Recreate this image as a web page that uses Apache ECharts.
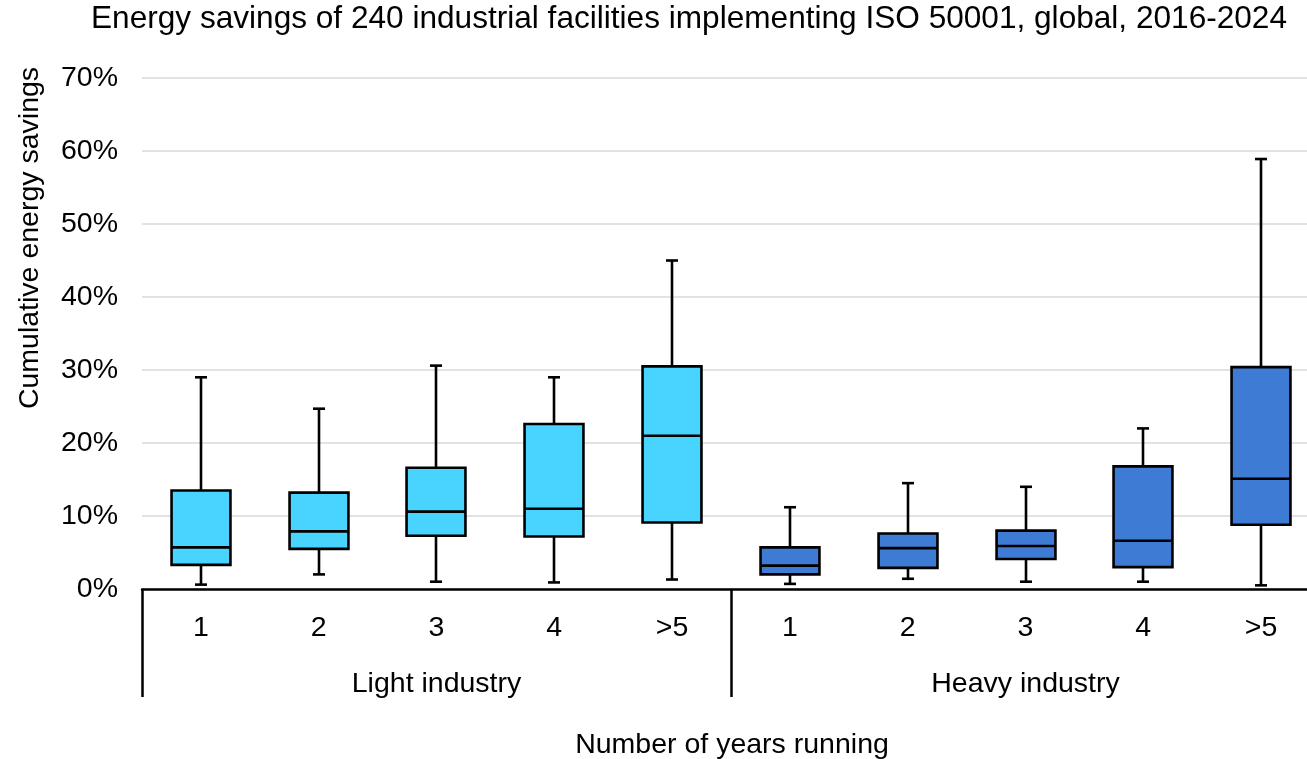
<!DOCTYPE html>
<html>
<head>
<meta charset="utf-8">
<script src="https://cdn.jsdelivr.net/npm/echarts@6/dist/echarts.min.js"></script>
<style>
html,body{margin:0;padding:0;background:#fff;overflow:hidden;width:1307px;height:759px;}
#chart{width:1322px;height:759px;}
</style>
</head>
<body>
<div id="chart"></div>
<script>
// ---- Data (percent) ----
const categories = ['1', '2', '3', '4', '>5', '1', '2', '3', '4', '>5'];
const groups = ['Light industry', 'Heavy industry'];
const groupOfCategory = [0, 0, 0, 0, 0, 1, 1, 1, 1, 1];
const whiskerLow  = [0.6, 2.0, 1.0, 0.9, 1.3, 0.7, 1.4, 1.0, 1.0, 0.5];
const quartile1   = [3.3, 5.5, 7.3, 7.2, 9.1, 2.0, 2.9, 4.1, 3.0, 8.8];
const median      = [5.7, 7.9, 10.6, 11.0, 21.0, 3.2, 5.6, 5.9, 6.6, 15.1];
const quartile3   = [13.5, 13.2, 16.6, 22.6, 30.5, 5.7, 7.6, 8.0, 16.8, 30.4];
const whiskerHigh = [29.0, 24.7, 30.6, 29.0, 45.0, 11.2, 14.5, 14.0, 22.0, 58.9];
const yTicks = [0, 10, 20, 30, 40, 50, 60, 70];

const groupColors = ['#48D4FF', '#3E7BD4'];
const FONT = '"Liberation Sans", Arial, sans-serif';

const seriesData = categories.map((c, i) => [i, whiskerLow[i], quartile1[i], median[i], quartile3[i], whiskerHigh[i], groupOfCategory[i]]);

const chart = echarts.init(document.getElementById('chart'), null, {renderer: 'canvas'});

function renderBox(params, api) {
  const idx = api.value(0);
  const band = api.size([1, 0])[0];
  const boxW = band * 0.5;
  const capW = 12;
  const pMin = api.coord([idx, api.value(1)]);
  const pQ1 = api.coord([idx, api.value(2)]);
  const pMed = api.coord([idx, api.value(3)]);
  const pQ3 = api.coord([idx, api.value(4)]);
  const pMax = api.coord([idx, api.value(5)]);
  const cx = Math.round(pMin[0]);
  const fill = groupColors[api.value(6)];
  const ls = {stroke: '#000', lineWidth: 2.6};
  return {
    type: 'group',
    children: [
      {type: 'line', shape: {x1: cx, y1: pMax[1], x2: cx, y2: pQ3[1]}, style: ls},
      {type: 'line', shape: {x1: cx, y1: pQ1[1], x2: cx, y2: pMin[1]}, style: ls},
      {type: 'line', shape: {x1: cx - capW / 2, y1: pMax[1], x2: cx + capW / 2, y2: pMax[1]}, style: ls},
      {type: 'line', shape: {x1: cx - capW / 2, y1: pMin[1], x2: cx + capW / 2, y2: pMin[1]}, style: ls},
      {type: 'rect', shape: {x: cx - boxW / 2, y: pQ3[1], width: boxW, height: pQ1[1] - pQ3[1]}, style: {fill: fill, stroke: '#000', lineWidth: 2.6}},
      {type: 'line', shape: {x1: cx - boxW / 2, y1: pMed[1], x2: cx + boxW / 2, y2: pMed[1]}, style: ls}
    ]
  };
}

const option = {
  backgroundColor: '#fff',
  animation: false,
  title: {
    text: 'Energy savings of 240 industrial facilities implementing ISO 50001, global, 2016-2024',
    left: 91, top: 3, padding: 0,
    textStyle: {fontFamily: FONT, fontSize: 31.6, fontWeight: 'normal', color: '#000'}
  },
  grid: {left: 142, top: 78, width: 1178, bottom: 170, containLabel: false},
  xAxis: [
    {
      type: 'category', data: categories, position: 'bottom',
      axisLine: {show: true, lineStyle: {color: '#000', width: 2.5}},
      axisTick: {show: false},
      axisLabel: {fontFamily: FONT, fontSize: 28.5, color: '#000', margin: 25, interval: 0},
      splitLine: {show: false}
    },
    {
      type: 'category', data: groups, position: 'bottom', offset: 0,
      axisLine: {show: false},
      axisTick: {show: true, length: 108, lineStyle: {color: '#000', width: 2.5}},
      axisLabel: {fontFamily: FONT, fontSize: 28.5, color: '#000', margin: 81},
      splitLine: {show: false}
    }
  ],
  yAxis: {
    type: 'value', min: yTicks[0], max: yTicks[yTicks.length - 1], interval: 10,
    axisLine: {show: false}, axisTick: {show: false},
    axisLabel: {formatter: '{value}%', fontFamily: FONT, fontSize: 28.5, color: '#000', margin: 24},
    splitLine: {show: true, lineStyle: {color: '#d9d9d9', width: 1.5}}
  },
  graphic: [
    {type: 'text', x: 30, y: 238, rotation: Math.PI / 2,
     style: {text: 'Cumulative energy savings', fontFamily: FONT, fontSize: 28.5, fill: '#000', textAlign: 'center', textVerticalAlign: 'middle'}},
    {type: 'text', x: 732, y: 745,
     style: {text: 'Number of years running', fontFamily: FONT, fontSize: 28.5, fill: '#000', textAlign: 'center', textVerticalAlign: 'middle'}}
  ],
  series: [{
    type: 'custom', xAxisIndex: 0, yAxisIndex: 0,
    renderItem: renderBox,
    encode: {x: 0, y: [1, 2, 3, 4, 5]},
    data: seriesData,
    clip: false
  }]
};
chart.setOption(option);
</script>
</body>
</html>
